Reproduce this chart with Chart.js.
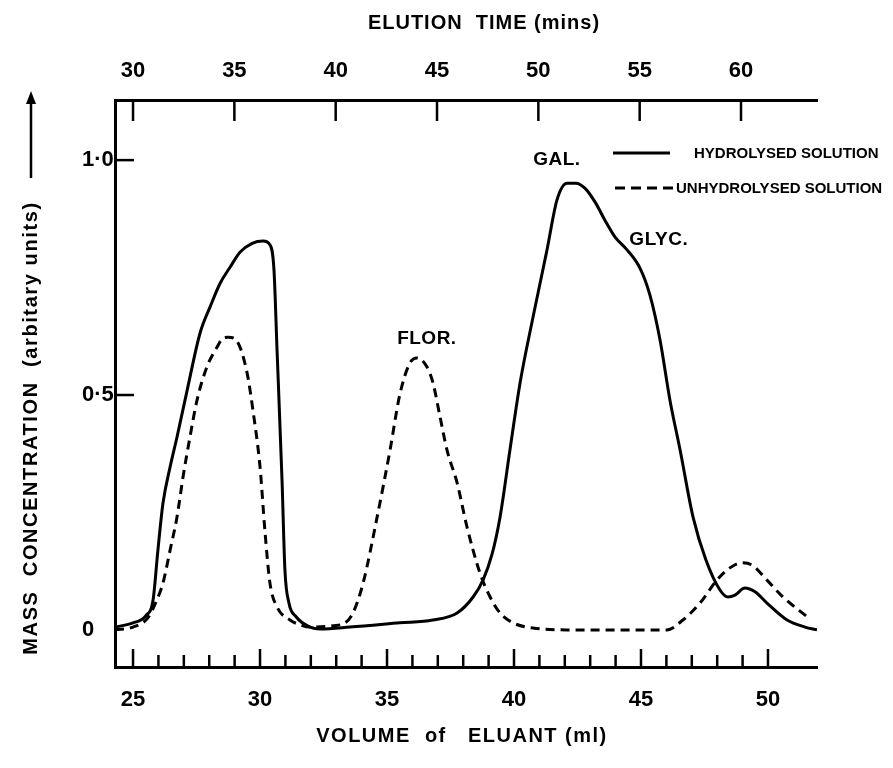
<!DOCTYPE html>
<html>
<head>
<meta charset="utf-8">
<title>Elution profile</title>
<script src="https://cdn.jsdelivr.net/npm/chart.js@4.4.1/dist/chart.umd.min.js"></script>
<style>
    html, body { margin: 0; padding: 0; background: #fff; }
    canvas { display: block; }
</style>
</head>
<body>
<canvas id="elution-chart" width="893" height="768"></canvas>
<script>
// -----------------------------
// Data
// -----------------------------
const hydrolysedVolume = [
    24.3, 25.0, 25.5, 25.79, 25.98, 26.18, 26.46, 26.73, 27.13, 27.64, 28.03, 28.43, 28.82, 29.21,
    29.69, 30.12, 30.39, 30.55, 30.67, 30.87, 30.98, 31.14, 31.42, 31.97, 32.36, 33.54, 35.5, 36.8,
    37.76, 38.39, 38.78, 39.13, 39.45, 39.84, 40.24, 40.75, 41.3, 41.69, 42.09, 42.44, 42.8, 43.2,
    43.58, 43.98, 44.45, 44.96, 45.35, 45.75, 46.14, 46.54, 47.05, 47.55, 48.11, 48.43, 48.7, 49.09,
    49.49, 49.96, 50.75, 51.46, 51.93
];
const hydrolysedMass = [
    0.006, 0.015, 0.03, 0.064, 0.17, 0.27, 0.347, 0.41, 0.51, 0.632, 0.687, 0.738, 0.772, 0.804,
    0.823, 0.828, 0.82, 0.766, 0.596, 0.313, 0.128, 0.057, 0.028, 0.006, 0.002, 0.006, 0.015, 0.021,
    0.036, 0.07, 0.106, 0.16, 0.24, 0.383, 0.526, 0.666, 0.809, 0.915, 0.951, 0.951, 0.94, 0.91,
    0.872, 0.836, 0.809, 0.77, 0.713, 0.617, 0.489, 0.383, 0.24, 0.15, 0.085, 0.07, 0.074, 0.089,
    0.081, 0.057, 0.021, 0.006, 0.0
];

const unhydrolysedVolume = [
    24.29, 25.0, 25.59, 25.94, 26.18, 26.46, 26.73, 26.97, 27.24, 27.52, 27.91, 28.31, 28.54, 28.74,
    29.06, 29.49, 29.72, 30.0, 30.2, 30.39, 30.67, 31.18, 31.57, 31.97, 32.87, 33.35, 33.66, 34.06,
    34.61, 35.12, 35.5, 35.9, 36.18, 36.57, 36.81, 37.09, 37.36, 37.76, 38.15, 38.66, 39.06, 39.45,
    39.96, 40.75, 42.09, 44.0, 46.02, 46.65, 47.32, 47.99, 48.5, 48.98, 49.37, 49.96, 50.59, 51.54
];
const unhydrolysedMass = [
    0.0, 0.006, 0.026, 0.064, 0.1, 0.17, 0.24, 0.326, 0.41, 0.489, 0.56, 0.602, 0.621, 0.623,
    0.617, 0.547, 0.468, 0.347, 0.206, 0.1, 0.049, 0.021, 0.011, 0.006, 0.009, 0.015, 0.036, 0.1,
    0.24, 0.383, 0.5, 0.568, 0.579, 0.56, 0.526, 0.453, 0.383, 0.313, 0.219, 0.121, 0.07, 0.036,
    0.015, 0.004, 0.0, 0.0, 0.0, 0.021, 0.057, 0.106, 0.132, 0.143, 0.138, 0.106, 0.07, 0.028
];

// axis ranges (bottom: volume in ml, top: elution time in mins)
const VOLUME_MIN = 24.29, VOLUME_MAX = 51.93;
const TIME_MIN = 29.11, TIME_MAX = 63.75;
const MASS_MIN = -0.079, MASS_MAX = 1.128;

const volumeMinorTicks = [25, 26, 27, 28, 29, 30, 31, 32, 33, 34, 35, 36, 37, 38, 39, 40, 41, 42, 43, 44, 45, 46, 47, 48, 49, 50];

const seriesLabels = ['HYDROLYSED SOLUTION', 'UNHYDROLYSED SOLUTION'];

const peakLabels = [
    { text: 'GAL.', volume: 41.69, mass: 1.0 },
    { text: 'GLYC.', volume: 45.7, mass: 0.83 },
    { text: 'FLOR.', volume: 36.57, mass: 0.62 }
];

// -----------------------------
// Helpers
// -----------------------------
const FONT_FAMILY = "'Liberation Sans', Arial, sans-serif";

function toPoints(xs, ys) {
    return xs.map((x, i) => ({ x, y: ys[i] }));
}

function line(ctx, x1, y1, x2, y2) {
    ctx.beginPath();
    ctx.moveTo(x1, y1);
    ctx.lineTo(x2, y2);
    ctx.stroke();
}

function drawText(ctx, text, x, y, size, align, spacing) {
    ctx.font = `bold ${size}px ${FONT_FAMILY}`;
    ctx.letterSpacing = (spacing || 0) + 'px';
    ctx.textAlign = align || 'center';
    ctx.textBaseline = 'middle';
    ctx.fillText(text, x, y);
}

// -----------------------------
// Plugins: inward ticks, titles, labels, legend
// -----------------------------
const inwardTicks = {
    id: 'inwardTicks',
    afterDraw(chart) {
        const { ctx, chartArea, scales } = chart;
        ctx.save();
        ctx.strokeStyle = '#000';
        ctx.lineWidth = 2.5;

        volumeMinorTicks.forEach(v => {
            const x = scales.x.getPixelForValue(v);
            const len = v % 5 === 0 ? 18 : 12;
            line(ctx, x, chartArea.bottom, x, chartArea.bottom - len);
        });

        scales.time.ticks.forEach(t => {
            const x = scales.time.getPixelForValue(t.value);
            line(ctx, x, chartArea.top, x, chartArea.top + 21);
        });

        scales.y.ticks.forEach(t => {
            if (t.value <= 0) return;
            const y = scales.y.getPixelForValue(t.value);
            line(ctx, chartArea.left, y, chartArea.left + 19, y);
        });
        ctx.restore();
    }
};

const figureText = {
    id: 'figureText',
    afterDraw(chart) {
        const { ctx, scales } = chart;
        ctx.save();
        ctx.fillStyle = '#000';

        // axis titles
        drawText(ctx, 'ELUTION  TIME (mins)', 484, 23, 20, 'center', 1);
        drawText(ctx, 'VOLUME  of   ELUANT (ml)', 462, 736, 20, 'center', 1.5);

        ctx.save();
        ctx.translate(31, 428);
        ctx.rotate(-Math.PI / 2);
        drawText(ctx, 'MASS  CONCENTRATION  (arbitary units)', 0, 0, 20, 'center', 1.6);
        ctx.restore();

        // arrow on the y title
        ctx.strokeStyle = '#000';
        ctx.lineWidth = 2.5;
        line(ctx, 31, 178, 31, 100);
        ctx.beginPath();
        ctx.moveTo(31, 91);
        ctx.lineTo(26, 104);
        ctx.lineTo(36, 104);
        ctx.closePath();
        ctx.fill();

        // peak labels
        peakLabels.forEach(p => {
            drawText(ctx, p.text, scales.x.getPixelForValue(p.volume), scales.y.getPixelForValue(p.mass), 19, 'center', 0.5);
        });

        // legend
        ctx.lineWidth = 3;
        line(ctx, 613, 153, 670, 153);
        ctx.setLineDash([10, 6]);
        line(ctx, 615, 188, 673, 188);
        ctx.setLineDash([]);
        drawText(ctx, seriesLabels[0], 694, 154, 15, 'left', 0);
        drawText(ctx, seriesLabels[1], 676, 189, 15, 'left', 0);

        ctx.restore();
    }
};

// -----------------------------
// Chart
// -----------------------------
const tickFont = { family: FONT_FAMILY, size: 22, weight: 'bold' };

new Chart(document.getElementById('elution-chart').getContext('2d'), {
    type: 'line',
    data: {
        datasets: [
            {
                label: seriesLabels[0],
                data: toPoints(hydrolysedVolume, hydrolysedMass),
                borderColor: '#000',
                borderWidth: 3,
                pointRadius: 0,
                cubicInterpolationMode: 'monotone'
            },
            {
                label: seriesLabels[1],
                data: toPoints(unhydrolysedVolume, unhydrolysedMass),
                borderColor: '#000',
                borderWidth: 3,
                borderDash: [9, 6],
                pointRadius: 0,
                cubicInterpolationMode: 'monotone'
            }
        ]
    },
    options: {
        responsive: false,
        animation: false,
        devicePixelRatio: 1,
        layout: { padding: { left: 82, right: 76, top: 0, bottom: 0 } },
        plugins: { legend: { display: false }, tooltip: { enabled: false } },
        scales: {
            x: {
                type: 'linear',
                position: 'bottom',
                min: VOLUME_MIN,
                max: VOLUME_MAX,
                grid: { display: false, drawTicks: false },
                border: { display: true, color: '#000', width: 3 },
                ticks: { stepSize: 5, includeBounds: false, color: '#000', font: tickFont, padding: 20, maxRotation: 0 },
                afterFit: scale => { scale.height = 101; }
            },
            time: {
                type: 'linear',
                axis: 'x',
                position: 'top',
                min: TIME_MIN,
                max: TIME_MAX,
                grid: { display: false, drawTicks: false },
                border: { display: true, color: '#000', width: 3 },
                ticks: { stepSize: 5, includeBounds: false, color: '#000', font: tickFont, padding: 16, maxRotation: 0 },
                afterFit: scale => { scale.height = 100; }
            },
            y: {
                type: 'linear',
                min: MASS_MIN,
                max: MASS_MAX,
                grid: { display: false, drawTicks: false },
                border: { display: true, color: '#000', width: 3 },
                ticks: {
                    stepSize: 0.5,
                    includeBounds: false,
                    color: '#000',
                    font: tickFont,
                    crossAlign: 'far',
                    callback: v => v === 0 ? '0' : v.toFixed(1).replace('.', '\u00b7')
                },
                afterFit: scale => { scale.width = 33; }
            }
        }
    },
    plugins: [inwardTicks, figureText]
});
</script>
</body>
</html>
